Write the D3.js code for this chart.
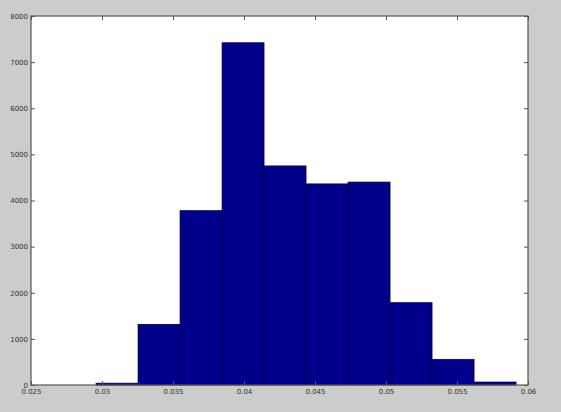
<!DOCTYPE html>
<html><head><meta charset="utf-8">
<script src="https://cdn.jsdelivr.net/npm/d3@7"></script>
<style>body{margin:0;background:#cccccc;}svg{display:block;}</style>
</head><body>
<script>
const binStart = 0.02958;
const binWidth = 0.002958;
const counts = [40, 1316, 3780, 7420, 4750, 4360, 4400, 1785, 557, 65];
const xTicks = [0.025, 0.03, 0.035, 0.04, 0.045, 0.05, 0.055, 0.06];
const xTickLabels = ["0.025", "0.03", "0.035", "0.04", "0.045", "0.05", "0.055", "0.06"];
const yTicks = [0, 1000, 2000, 3000, 4000, 5000, 6000, 7000, 8000];

const W = 561, H = 412;
const L = 31, R = 528, T = 16, B = 385;
const svg = d3.select("body").append("svg").attr("width", W).attr("height", H);
svg.append("rect").attr("width", W).attr("height", H).attr("fill", "#cccccc");
const x = d3.scaleLinear().domain([0.025, 0.06]).range([L, R]);
const y = d3.scaleLinear().domain([0, 8000]).range([B, T]);
svg.append("rect").attr("x", L).attr("y", T).attr("width", R - L).attr("height", B - T).attr("fill", "#ffffff");

const bins = counts.map((c, i) => ({x0: binStart + i * binWidth, x1: binStart + (i + 1) * binWidth, c}));
svg.append("g").selectAll("rect").data(bins).join("rect")
  .attr("x", d => x(d.x0)).attr("width", d => x(d.x1) - x(d.x0))
  .attr("y", d => y(d.c)).attr("height", d => y(0) - y(d.c))
  .attr("fill", "#00008b").attr("stroke", "#000033").attr("stroke-width", 0.7);

const fmtX = (d, i) => xTickLabels[i];
const axStyle = g => {
  g.select(".domain").remove();
  g.selectAll(".tick line").attr("stroke", "#555");
  g.selectAll(".tick text").attr("fill", "#333").style("font-family", "DejaVu Sans, sans-serif").style("font-size", "7px");
};
svg.append("g").attr("transform", `translate(0,${B})`)
  .call(d3.axisBottom(x).tickValues(xTicks).tickFormat(fmtX).tickSizeInner(-4).tickSizeOuter(0).tickPadding(4)).call(axStyle);
svg.append("g").attr("transform", `translate(0,${T})`)
  .call(d3.axisTop(x).tickValues(xTicks).tickFormat("").tickSizeInner(-4).tickSizeOuter(0)).call(axStyle);
svg.append("g").attr("transform", `translate(${L},0)`)
  .call(d3.axisLeft(y).tickValues(yTicks).tickFormat(d3.format("d")).tickSizeInner(-4).tickSizeOuter(0).tickPadding(3)).call(axStyle);
svg.append("g").attr("transform", `translate(${R},0)`)
  .call(d3.axisRight(y).tickValues(yTicks).tickFormat("").tickSizeInner(-4).tickSizeOuter(0)).call(axStyle);

svg.append("rect").attr("x", L).attr("y", T).attr("width", R - L).attr("height", B - T)
  .attr("fill", "none").attr("stroke", "#555").attr("stroke-width", 1.2);
</script>
</body></html>
